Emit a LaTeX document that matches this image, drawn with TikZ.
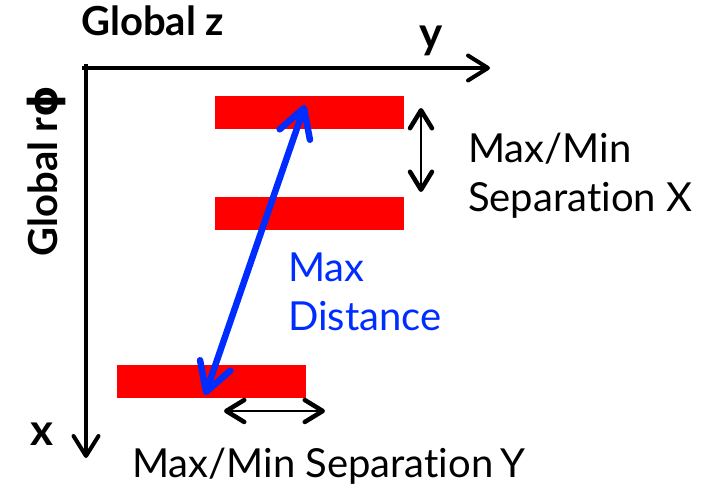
\documentclass[tikz,border=0pt]{standalone}
\usepackage{fontspec}
\setmainfont{Lato}[Ligatures=NoCommon]
\newfontfamily\greekfont{DejaVu Sans}
\usepackage{xcolor}
\usetikzlibrary{arrows.meta,positioning}
\definecolor{distblue}{RGB}{0,45,255}

\begin{document}
\begin{tikzpicture}[x=1pt,y=-1pt,
  bar/.style={rectangle, fill=red, draw=none, minimum width=189pt,
    minimum height=33pt, inner sep=0pt, anchor=north west},
  axis/.style={line width=4pt, -{Straight Barb[length=20pt,width=25pt,round]}},
  sep/.style={line width=2pt,
    {Straight Barb[length=18pt,width=22pt,round,line width=4.5pt]}-{Straight Barb[length=18pt,width=22pt,round,line width=4.5pt]}},
  dist/.style={draw=distblue, line width=6.5pt,
    {Straight Barb[length=28pt,width=32pt,round]}-{Straight Barb[length=28pt,width=32pt,round]}},
  lbl/.style={font=\fontsize{40}{49}\selectfont, align=left, inner sep=0pt},
  axlbl/.style={font=\bfseries\fontsize{40}{46}\selectfont, inner sep=0pt},
]
\useasboundingbox (0,0) rectangle (718,489);

% axes
\coordinate (org) at (86,68);
\coordinate (yend) at (490,68);
\coordinate (xend) at (86,458);
\draw[axis] ([xshift=-4pt]org) -- (yend);
\draw[axis] ([yshift=4pt]org) -- (xend);
\node[axlbl, anchor=base west] (zlbl) at (81,36) {Global z};
\node[axlbl, font=\bfseries\fontsize{44}{48}\selectfont] (ylbl) at (431,41) {y};
\node[axlbl, font=\bfseries\fontsize{44}{48}\selectfont] (xlbl) at (42,434) {x};
\node[axlbl, rotate=90] (rphilbl) at (46,171) {Global r{\greekfont ϕ}};

% strips
\node[bar] (top) at (215,96) {};
\node[bar] (mid) at (215,197) {};
\node[bar] (low) at (117,365) {};

% separations
\coordinate (sxa) at (421,108);
\coordinate (sxb) at (421,192);
\draw[sep] (sxa) -- (sxb);
\node[lbl, anchor=north west] (sxlbl) at (468,133) {Max/Min\\Separation X};

\coordinate (sya) at (224,411);
\coordinate (syb) at (325,411);
\draw[sep] (sya) -- (syb);
\node[lbl, anchor=base west] (sylbl) at (132,477) {Max/Min Separation\,Y};

% max distance
\coordinate (da) at (305,105);
\coordinate (db) at (205,395);
\draw[dist] (da) -- (db);
\node[lbl, text=distblue, anchor=north west] (dlbl) at (288,253) {Max\\Distance};
\end{tikzpicture}
\end{document}
